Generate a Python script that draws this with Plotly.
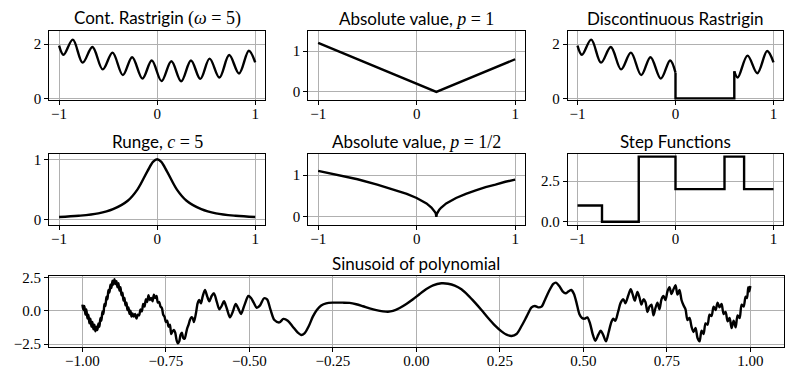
'''
    Grid of test functions: six small panels and one wide panel below.
'''

import plotly.graph_objects as go

# ---- data ----
cont_rastrigin_x = [-1.0, -0.955, -0.86, -0.76, -0.66, -0.555, -0.455, -0.35, -0.255, -0.15, -0.055,
                    0.045, 0.145, 0.245, 0.345, 0.44, 0.535, 0.635, 0.735, 0.835, 0.935, 1.0]
cont_rastrigin_y = [1.95, 1.61, 2.17, 1.32, 1.90, 1.07, 1.69, 0.86, 1.52, 0.73, 1.40,
                    0.64, 1.37, 0.63, 1.40, 0.72, 1.47, 0.77, 1.60, 0.92, 1.76, 1.33]

abs1_x = [-1.0, 0.2, 1.0]
abs1_y = [1.2, 0.0, 0.8]

disc_left_x = [-1.0, -0.955, -0.86, -0.76, -0.66, -0.555, -0.455, -0.35, -0.255, -0.15, -0.055, 0.0]
disc_left_y = [1.95, 1.61, 2.17, 1.32, 1.90, 1.07, 1.69, 0.86, 1.52, 0.73, 1.40, 0.95]
disc_mid_x = [0.0, 0.0, 0.6, 0.6]
disc_mid_y = [0.95, 0.0, 0.0, 1.0]
disc_right_x = [0.6, 0.635, 0.735, 0.835, 0.935, 1.0]
disc_right_y = [1.0, 0.77, 1.58, 0.93, 1.75, 1.33]

runge_x = [-1.0, -0.8, -0.6, -0.45, -0.3, -0.2, -0.1, -0.04, 0.0, 0.04, 0.1, 0.2, 0.3, 0.45, 0.6, 0.8, 1.0]
runge_y = [0.04, 0.06, 0.10, 0.17, 0.31, 0.50, 0.80, 0.96, 1.0, 0.96, 0.80, 0.50, 0.31, 0.17, 0.10, 0.06, 0.04]

abs_half_x = [-1.0, -0.8, -0.6, -0.4, -0.2, -0.1, 0.0, 0.05, 0.1, 0.15, 0.17, 0.19, 0.195, 0.2,
              0.205, 0.21, 0.23, 0.25, 0.3, 0.4, 0.5, 0.6, 0.7, 0.8, 0.9, 1.0]
abs_half_y = [1.10, 1.00, 0.90, 0.77, 0.63, 0.55, 0.45, 0.39, 0.32, 0.22, 0.17, 0.10, 0.07, 0.0,
              0.07, 0.10, 0.17, 0.22, 0.32, 0.45, 0.55, 0.63, 0.71, 0.77, 0.84, 0.89]

step_x = [-1.0, -0.75, -0.375, 0.0, 0.5, 0.7, 1.0]
step_y = [1.0, 0.0, 4.0, 2.0, 4.0, 2.0, 2.0]

sinusoid_x = [
    -1.000, -0.997, -0.994, -0.991, -0.988, -0.985, -0.982, -0.979, -0.976, -0.973,
    -0.970, -0.967, -0.964, -0.961, -0.958, -0.955, -0.952, -0.949, -0.946, -0.943,
    -0.940, -0.937, -0.934, -0.931, -0.928, -0.925, -0.922, -0.919, -0.916, -0.913,
    -0.910, -0.907, -0.904, -0.901, -0.898, -0.895, -0.892, -0.889, -0.886, -0.883,
    -0.880, -0.877, -0.874, -0.871, -0.868, -0.865, -0.862, -0.859, -0.856, -0.853,
    -0.850, -0.846, -0.842, -0.838, -0.834, -0.830, -0.826, -0.822, -0.818, -0.814,
    -0.810, -0.806, -0.802, -0.798, -0.794, -0.790, -0.786, -0.782, -0.778, -0.774,
    -0.770, -0.766, -0.762, -0.758, -0.754, -0.750, -0.746, -0.742, -0.738, -0.734,
    -0.730, -0.726, -0.722, -0.718, -0.714, -0.710, -0.706, -0.702, -0.698, -0.694,
    -0.690, -0.686, -0.682, -0.678, -0.674, -0.670, -0.666, -0.660, -0.655, -0.650,
    -0.645, -0.640, -0.633, -0.626, -0.620, -0.613, -0.606, -0.598, -0.590, -0.583,
    -0.576, -0.568, -0.558, -0.550, -0.541, -0.533, -0.525, -0.515, -0.503, -0.495,
    -0.487, -0.478, -0.468, -0.456, -0.447, -0.437, -0.425, -0.410, -0.398, -0.385,
    -0.370, -0.355, -0.345, -0.335, -0.322, -0.310, -0.298, -0.285, -0.270, -0.250,
    -0.220, -0.200, -0.180, -0.160, -0.140, -0.120, -0.100, -0.085, -0.070, -0.050,
    -0.030, -0.010, 0.010, 0.030, 0.050, 0.075, 0.095, 0.115, 0.135, 0.155,
    0.175, 0.195, 0.215, 0.235, 0.255, 0.270, 0.285, 0.300, 0.315, 0.330,
    0.345, 0.355, 0.365, 0.375, 0.385, 0.397, 0.410, 0.418, 0.428, 0.438,
    0.447, 0.456, 0.464, 0.472, 0.480, 0.488, 0.496, 0.504, 0.512, 0.520,
    0.528, 0.536, 0.545, 0.552, 0.560, 0.568, 0.576, 0.584, 0.590, 0.596,
    0.604, 0.612, 0.620, 0.626, 0.634, 0.642, 0.648, 0.654, 0.662, 0.668,
    0.674, 0.680, 0.686, 0.692, 0.698, 0.704, 0.710, 0.716, 0.722, 0.728,
    0.734, 0.740, 0.746, 0.752, 0.758, 0.764, 0.770, 0.776, 0.782, 0.788,
    0.794, 0.800, 0.806, 0.812, 0.818, 0.824, 0.830, 0.836, 0.842, 0.848,
    0.854, 0.860, 0.866, 0.872, 0.878, 0.884, 0.890, 0.896, 0.902, 0.908,
    0.914, 0.920, 0.926, 0.932, 0.938, 0.944, 0.950, 0.956, 0.962, 0.968,
    0.974, 0.980, 0.986, 0.990, 0.994, 0.997, 1.000,
]
sinusoid_y = [
    0.45, 0.05, 0.35, -0.30, 0.10, -0.60, -0.30, -0.95, -0.60, -1.20,
    -0.85, -1.40, -1.05, -1.55, -1.20, -1.45, -0.95, -1.20, -0.55, -0.75,
    -0.05, -0.25, 0.50, 0.35, 1.05, 0.85, 1.55, 1.35, 1.95, 1.70,
    2.25, 1.95, 2.35, 2.00, 2.20, 1.75, 2.05, 1.50, 1.75, 1.15,
    1.35, 0.75, 0.95, 0.40, 0.60, 0.05, 0.25, -0.25, 0.00, -0.45,
    -0.20, -0.45, -0.25, -0.60, -0.30, -0.35, 0.10, -0.05, 0.50, 0.30,
    0.85, 0.65, 1.15, 0.80, 0.95, 0.70, 1.20, 0.95, 1.10, 0.60,
    0.65, 0.30, 0.20, -0.30, -0.45, -0.85, -0.75, -1.20, -1.05, -1.75,
    -1.55, -1.45, -1.65, -2.20, -2.45, -2.30, -1.80, -1.65, -2.05, -2.10,
    -1.75, -1.30, -1.05, -0.70, -0.50, -0.55, -0.85, -0.20, 0.55, 0.80,
    0.55, 1.05, 1.55, 1.05, 0.70, 1.10, 1.30, 0.70, 0.10, 0.35,
    0.70, 0.20, -0.50, -0.10, 0.50, 0.15, -0.25, 0.40, 1.10, 0.95,
    0.60, 0.22, 0.40, 0.93, 0.85, 0.10, -0.70, -0.88, -0.62, -0.75,
    -1.20, -1.65, -1.82, -1.70, -1.15, -0.45, 0.05, 0.38, 0.55, 0.60,
    0.60, 0.58, 0.48, 0.33, 0.17, 0.04, -0.05, -0.08, -0.02, 0.20,
    0.50, 0.85, 1.25, 1.62, 1.90, 2.05, 2.02, 1.88, 1.60, 1.15,
    0.62, 0.05, -0.55, -1.10, -1.55, -1.80, -1.90, -1.75, -1.15, -0.45,
    0.25, 0.35, 0.25, 0.30, 0.80, 1.45, 2.00, 2.10, 1.85, 1.45,
    1.30, 1.45, 1.55, 1.25, 0.55, -0.25, -0.55, -0.60, -0.50, -0.95,
    -1.75, -2.25, -1.80, -1.50, -1.85, -2.30, -1.60, -0.85, -0.60, -0.75,
    -0.10, 0.60, 0.85, 0.55, 1.10, 1.60, 1.20, 0.75, 1.40, 1.00,
    0.45, 0.85, 0.65, -0.10, 0.30, 0.45, -0.35, 0.20, 0.60, 0.10,
    0.85, 1.10, 0.80, 1.45, 1.75, 1.25, 1.60, 1.90, 1.20, 1.55,
    0.80, 0.40, 0.10, -0.70, -0.55, -1.20, -1.60, -1.30, -2.05, -2.30,
    -1.50, -1.75, -0.95, -1.05, -0.30, -0.40, 0.30, 0.05, 0.60, 0.25,
    0.50, -0.25, -0.10, -0.80, -0.55, -1.30, -0.75, -1.25, -0.35, -0.55,
    0.45, 0.30, 1.05, 0.95, 1.75, 1.45, 1.85,
]

SERIF = 'Liberation Serif'
SANS = 'Lato'
W, H = 793, 379


def px_x(a, b):
    # pixel span -> paper fraction (horizontal)
    return [a / W, b / W]


def px_y(top, bottom):
    # pixel span -> paper fraction (vertical)
    return [1 - bottom / H, 1 - top / H]


def math(s):
    return f'<span style="font-family:{SERIF};font-size:18px">{s}</span>'


# panel boxes in pixels: (left, right, top, bottom)
panels = [
    (49.3, 265.0, 30.7, 100.0),
    (308.3, 525.0, 30.7, 100.0),
    (567.7, 783.3, 30.7, 100.0),
    (49.3, 265.0, 154.3, 225.0),
    (308.3, 525.0, 154.3, 225.0),
    (567.7, 783.3, 154.3, 225.0),
    (49.0, 783.7, 275.7, 346.7),
]

titles = [
    'Cont. Rastrigin ' + math('(<i>ω</i> = 5)'),
    'Absolute value, ' + math('<i>p</i> = 1'),
    'Discontinuous Rastrigin',
    'Runge, ' + math('<i>c</i> = 5'),
    'Absolute value, ' + math('<i>p</i> = 1/2'),
    'Step Functions',
    'Sinusoid of polynomial',
]

y_ranges = [[-0.06, 2.5], [-0.2, 1.5], [-0.06, 2.5], [-0.094, 1.083],
            [-0.2, 1.5], [-0.2, 4.14], [-2.7, 2.62]]
y_ticks = [[0, 2], [0, 1], [0, 2], [0, 1], [0, 1], [0, 2.5], [-2.5, 0, 2.5]]
y_formats = ['d', 'd', 'd', 'd', 'd', '.1f', '.1f']

fig = go.Figure()

line = dict(color='black', width=2.4)

fig.add_trace(go.Scatter(x=cont_rastrigin_x, y=cont_rastrigin_y, line=dict(line, shape='spline'),
                         xaxis='x', yaxis='y'))
fig.add_trace(go.Scatter(x=abs1_x, y=abs1_y, line=line, xaxis='x2', yaxis='y2'))
fig.add_trace(go.Scatter(x=disc_left_x, y=disc_left_y, line=dict(line, shape='spline'),
                         xaxis='x3', yaxis='y3'))
fig.add_trace(go.Scatter(x=disc_mid_x, y=disc_mid_y, line=line, xaxis='x3', yaxis='y3'))
fig.add_trace(go.Scatter(x=disc_right_x, y=disc_right_y, line=dict(line, shape='spline'),
                         xaxis='x3', yaxis='y3'))
fig.add_trace(go.Scatter(x=runge_x, y=runge_y, line=dict(line, shape='spline'),
                         xaxis='x4', yaxis='y4'))
fig.add_trace(go.Scatter(x=abs_half_x, y=abs_half_y, line=line, xaxis='x5', yaxis='y5'))
fig.add_trace(go.Scatter(x=step_x, y=step_y, line=dict(line, shape='hv'),
                         xaxis='x6', yaxis='y6'))
fig.add_trace(go.Scatter(x=sinusoid_x, y=sinusoid_y, line=dict(line, shape='spline', smoothing=0.8),
                         xaxis='x7', yaxis='y7'))
fig.update_traces(mode='lines', showlegend=False, hoverinfo='skip')

axis_common = dict(
    showline=True, linecolor='black', linewidth=1, mirror=True,
    ticks='outside', ticklen=4, tickcolor='black', tickwidth=1,
    showgrid=True, gridcolor='#b0b0b0', gridwidth=1, zeroline=False,
    tickfont=dict(family=SERIF, size=15, color='black'),
    automargin=False, fixedrange=True,
)

layout = {}
annotations = []
for i, (left, right, top, bottom) in enumerate(panels):
    n = '' if i == 0 else str(i + 1)
    wide = i == 6
    layout['xaxis' + n] = dict(
        axis_common, domain=px_x(left, right), anchor='y' + n, range=[-1.1, 1.1],
        tickvals=[-1, -0.75, -0.5, -0.25, 0, 0.25, 0.5, 0.75, 1] if wide else [-1, 0, 1],
        tickformat='.2f' if wide else 'd', ticklabelstandoff=-4,
    )
    layout['yaxis' + n] = dict(
        axis_common, domain=px_y(top, bottom), anchor='x' + n, range=y_ranges[i],
        tickvals=y_ticks[i], tickformat=y_formats[i],
    )
    annotations.append(dict(
        text=titles[i], xref='paper', yref='paper',
        x=(left + right) / 2 / W, y=1 - (top - 12.7) / H,
        xanchor='center', yanchor='middle', showarrow=False,
        font=dict(family=SANS, size=17, color='black'),
    ))

fig.update_layout(
    **layout,
    annotations=annotations,
    width=W, height=H,
    margin=dict(l=0, r=0, t=0, b=0),
    paper_bgcolor='white', plot_bgcolor='white',
)

# the page body has a default 8px margin; drop it so the figure sits at the window corner
fig.write_html('out.html', config={'displayModeBar': False},
               post_script="document.body.style.margin = '0';")
